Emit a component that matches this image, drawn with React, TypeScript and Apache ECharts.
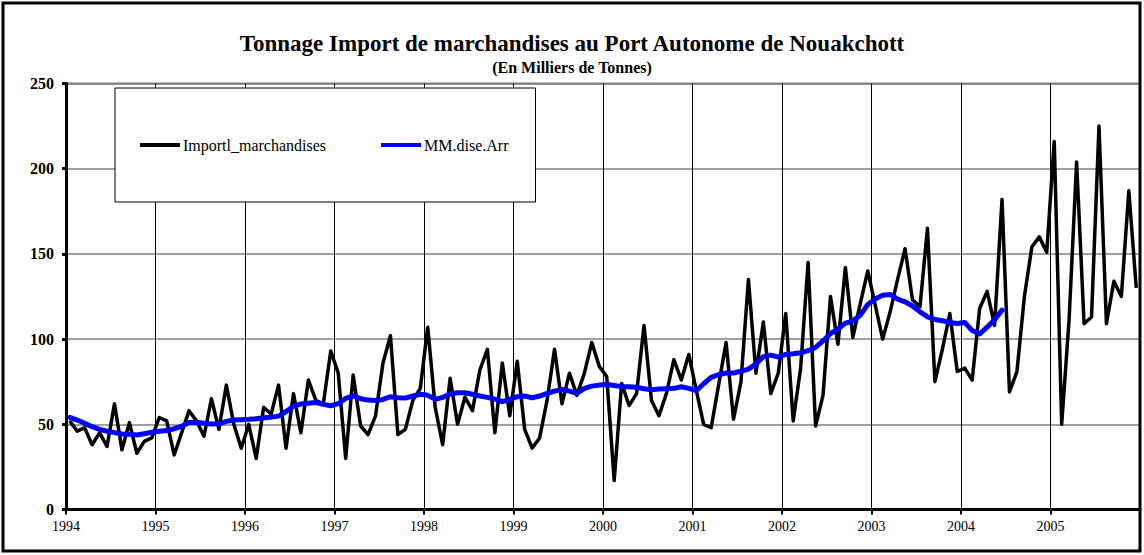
import React, { useEffect, useRef } from "react";
import * as echarts from "echarts";

const TITLE = "Tonnage Import de marchandises au Port Autonome de Nouakchott";
const SUBTITLE = "(En Milliers de Tonnes)";
const START_YEAR = 1994;
const MONTHS = 144;
const yTicks = [0, 50, 100, 150, 200, 250];

const seriesNames = ["Importl_marchandises", "MM.dise.Arr"];

// Monthly imports, Jan 1994 .. Dec 2005
const imports = [
  52, 46, 48, 38, 45, 37, 62, 35, 51, 33, 40, 42,
  54, 52, 32, 45, 58, 52, 43, 65, 47, 73, 50, 36,
  50, 30, 60, 56, 73, 36, 68, 45, 76, 64, 62, 93,
  80, 30, 79, 49, 44, 55, 86, 102, 44, 47, 64, 71,
  107, 60, 38, 77, 50, 66, 58, 82, 94, 45, 86, 55,
  87, 47, 36, 42, 64, 94, 62, 80, 67, 80, 98, 84,
  78, 17, 74, 61, 68, 108, 64, 55, 68, 88, 76, 91,
  70, 50, 48, 73, 98, 53, 75, 135, 80, 110, 68, 80,
  115, 52, 83, 145, 49, 67, 125, 97, 142, 101, 121, 140,
  120, 100, 116, 135, 153, 123, 119, 165, 75, 94, 115, 81,
  83, 76, 118, 128, 108, 182, 69, 81, 125, 154, 160, 151,
  216, 50, 112, 204, 109, 113, 225, 109, 134, 125, 187, 130,
];

// Moving average, Jan 1994 .. Jun 2004
const movingAvg = [
  54, 52.5, 50.6, 48.6, 47, 45.9, 45.1, 44.3, 44.1, 43.7, 44.5, 45.3,
  45.9, 46.3, 47.4, 48.8, 51, 51.2, 50.6, 50.2, 50.3, 51.7, 52.5, 52.7,
  52.9, 53.3, 53.8, 54.2, 54.8, 57.4, 60.7, 61.9, 62.4, 62.8, 61.7, 60.9,
  62.1, 65.2, 66.7, 65, 64.2, 64, 64.6, 66.2, 65.6, 65.4, 66.6, 67.6,
  67, 64.6, 65.8, 67.8, 68.5, 68.5, 67.6, 66.6, 65.8, 64.8, 63.3, 64.6,
  66.2, 66.6, 65.6, 66.6, 68.1, 69.5, 70.5, 69.5, 68.1, 71.1, 72.4, 73,
  73.4, 72.8, 72.1, 72.1, 71.7, 70.9, 70.3, 70.7, 70.9, 71.1, 72, 71.1,
  69.7, 73.8, 77.6, 79.1, 80.1, 80.1, 81.1, 82.4, 85.4, 89.7, 90.6, 89.5,
  91, 91.4, 92, 93.2, 95.1, 98.9, 103.3, 105.9, 109.4, 110.6, 114.1, 120.3,
  123.5, 125.8, 126.2, 123.5, 121.9, 119.4, 116, 113.1, 111.5, 110.8, 109.8, 109.2,
  109.8, 105, 103, 107, 111.4, 117,
];

const FONT = "'Liberation Serif', 'Times New Roman', serif";

export default function App() {
  const ref = useRef<HTMLDivElement>(null);
  useEffect(() => {
    if (!ref.current) return;
    const chart = echarts.init(ref.current, undefined, { renderer: "svg" });
    const option: any = {
      animation: false,
      backgroundColor: "#fff",
      textStyle: { fontFamily: FONT },
      title: [
        {
          text: TITLE,
          left: "center",
          top: 27,
          textStyle: { fontFamily: FONT, fontSize: 23, fontWeight: "bold", color: "#000" },
        },
        {
          text: SUBTITLE,
          left: "center",
          top: 54,
          textStyle: { fontFamily: FONT, fontSize: 16, fontWeight: "bold", color: "#000" },
        },
      ],
      legend: {
        left: 115,
        top: 88,
        orient: "horizontal",
        backgroundColor: "#fff",
        borderColor: "#000",
        borderWidth: 1,
        borderRadius: 0,
        padding: [49, 27, 49, 25],
        itemWidth: 40,
        itemHeight: 4,
        itemGap: 55,
        icon: "rect",
        textStyle: { fontFamily: FONT, fontSize: 16, color: "#000", padding: [0, 0, 0, -2] },
        data: seriesNames,
        z: 10,
      },
      grid: {
        left: 66,
        top: 83.5,
        width: 1074,
        height: 426,
        show: true,
        borderColor: "#808080",
        borderWidth: 2,
        containLabel: false,
      },
      xAxis: {
        type: "value",
        min: 0,
        max: MONTHS,
        interval: 12,
        axisLine: { show: true, onZero: false, lineStyle: { color: "#000", width: 3 } },
        axisTick: { show: true, length: 5, lineStyle: { color: "#000", width: 2 } },
        splitLine: { show: true, lineStyle: { color: "#000", width: 1 } },
        axisLabel: {
          margin: 10,
          fontFamily: FONT,
          fontSize: 14,
          color: "#000",
          showMaxLabel: false,
          formatter: (v: number) => (v < MONTHS ? String(START_YEAR + v / 12) : ""),
        },
      },
      yAxis: {
        type: "value",
        min: yTicks[0],
        max: yTicks[yTicks.length - 1],
        interval: 50,
        axisLine: { show: true, lineStyle: { color: "#000", width: 3 } },
        axisTick: { show: true, length: 4, lineStyle: { color: "#000", width: 3 } },
        splitLine: { show: true, lineStyle: { color: "#808080", width: 1.5 } },
        axisLabel: {
          margin: 12,
          fontFamily: FONT,
          fontSize: 16,
          fontWeight: "bold",
          color: "#000",
        },
      },
      series: [
        {
          name: seriesNames[0],
          type: "line",
          data: imports.map((v, i) => [i + 0.5, v]),
          symbol: "none",
          showSymbol: false,
          lineStyle: { color: "#000", width: 3.5, join: "round" },
          itemStyle: { color: "#000" },
          z: 3,
        },
        {
          name: seriesNames[1],
          type: "line",
          data: movingAvg.map((v, i) => [i + 0.5, v]),
          symbol: "none",
          showSymbol: false,
          lineStyle: { color: "#0000FF", width: 5, join: "round", cap: "round" },
          itemStyle: { color: "#0000FF" },
          z: 4,
        },
      ],
      graphic: [
        {
          type: "rect",
          shape: { x: 3, y: 3, width: 1137, height: 548 },
          style: { fill: "none", stroke: "#000", lineWidth: 3 },
          silent: true,
          z: 100,
        },
      ],
    };
    chart.setOption(option);
    return () => chart.dispose();
  }, []);
  return (
    <div
      ref={ref}
      style={{ position: "fixed", left: 0, top: 0, width: 1144, height: 555 }}
    />
  );
}
